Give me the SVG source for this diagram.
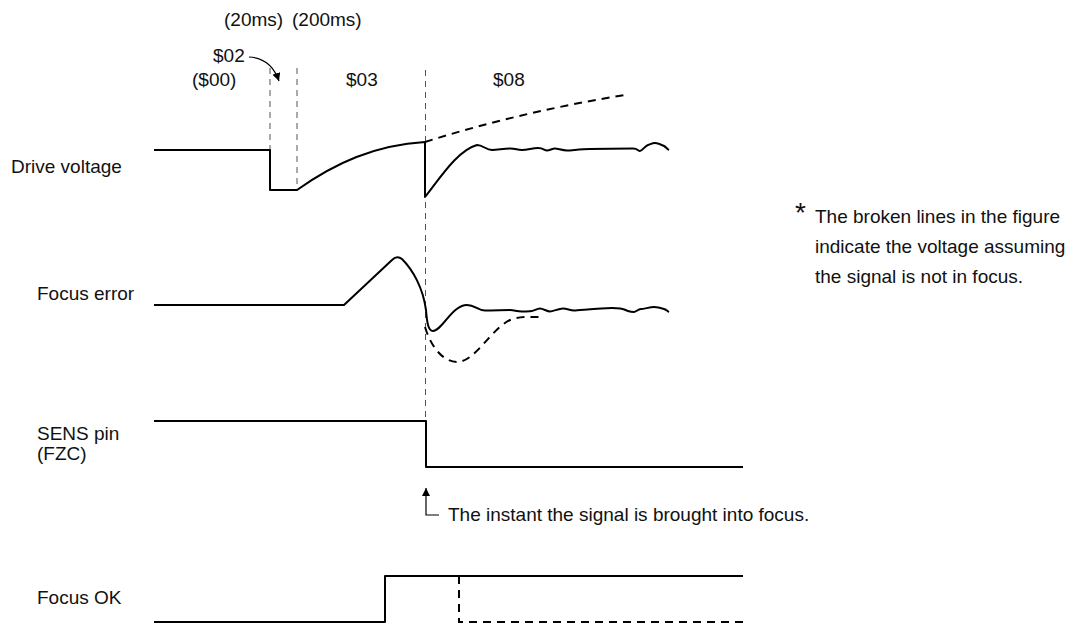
<svg xmlns="http://www.w3.org/2000/svg" width="1080" height="626" viewBox="0 0 1080 626">
<style>
text{font-family:"Liberation Sans",Arial,Helvetica,sans-serif;font-size:19px;fill:#111}
.sig{fill:none;stroke:#000;stroke-width:2;stroke-linejoin:round}
.brk{fill:none;stroke:#000;stroke-width:2;stroke-dasharray:8 6}
.mark{fill:none;stroke:#555;stroke-width:1;stroke-dasharray:6 5}
.thin{fill:none;stroke:#000;stroke-width:1.2}
</style>
<defs>
<marker id="ah" viewBox="0 0 10 10" refX="10" refY="5" markerWidth="8" markerHeight="8" markerUnits="userSpaceOnUse" orient="auto">
<path d="M0,0 L10,5 L0,10 Z" fill="#000"/>
</marker>
<marker id="ah2" viewBox="0 0 10 10" refX="10" refY="5" markerWidth="11" markerHeight="8" markerUnits="userSpaceOnUse" orient="auto">
<path d="M0,0 L10,5 L0,10 Z" fill="#000"/>
</marker>
</defs>

<g id="phase-labels">
<text y="26"><tspan x="224">(20ms)</tspan><tspan x="292">(200ms)</tspan></text>
<text x="213" y="62">$02</text>
<text x="192" y="86">($00)</text>
<text x="346" y="86">$03</text>
<text x="493" y="86">$08</text>
</g>

<g id="connectors">
<line class="mark" x1="270" y1="68" x2="270" y2="190"/>
<line class="mark" x1="297" y1="68" x2="297" y2="190"/>
<line class="mark" x1="425.5" y1="70" x2="425.5" y2="467"/>
<path class="thin" d="M249,57 Q271,58 279,81" marker-end="url(#ah)"/>
<path class="thin" d="M439,515 L426,515 L426,488" marker-end="url(#ah2)"/>
</g>

<g id="drive-voltage">
<text x="11" y="173">Drive voltage</text>
<path class="sig" d="M154,150 L270,150 L270,190 L297,190 C335,163 375,145 425,142 L425,197 C440,178 458,150 477,145 C483,145 486,150 492,150 S503,148.5 510,148.5 S516,150 522,150 S532,148 538,148 S544,150.5 547,150.5 S552,148.5 555,148.5 S562,150.5 567,150.5 S580,149 590,149 S628,148.5 633,148.5 S638,151 640,151 S645,146 648,145 S652,143 655,143 S662,145 664,146 S667,149 669,150"/>
<path class="brk" d="M425,142 Q520,112 625,95"/>
</g>

<g id="focus-error">
<text x="37" y="300">Focus error</text>
<path class="sig" d="M154,305 L344,305 L392,260 Q397,255 402,259 C413,270 423,288 426,310 C427,322 428,331 433,331 C442,331 452,305 467,305 C475,305 478,310.5 485,310.5 S505,310 510,310 S516,311.5 522,311.5 S530,311 532,311 S537,308.5 540,308.5 S547,311.5 550,311.5 S559,308.5 563,308.5 S570,310.5 574,310.5 S600,308 612,308 S625,310 628,311 S632,312 634,312 S638,309 641,309 S650,307 654,307 S661,308 664,309 S667,311 669,312"/>
<path class="brk" d="M425,327 C432,350 445,362 457,362 C475,362 490,330 510,320 C520,316 530,317 540,317"/>
</g>

<g id="sens-pin">
<text x="37" y="440">SENS pin</text>
<text x="37" y="460">(FZC)</text>
<path class="sig" d="M154,421 L426,421 L426,467 L743,467"/>
<text x="448" y="521">The instant the signal is brought into focus.</text>
</g>

<g id="focus-ok">
<text x="37" y="604">Focus OK</text>
<path class="sig" d="M154,622 L385,622 L385,576 L743,576"/>
<path class="brk" d="M459,576 L459,622 L743,622"/>
</g>

<g id="note">
<text x="795" y="222" style="font-size:28px">*</text>
<text x="815" y="223">The broken lines in the figure</text>
<text x="815" y="253">indicate the voltage assuming</text>
<text x="815" y="283">the signal is not in focus.</text>
</g>
</svg>
